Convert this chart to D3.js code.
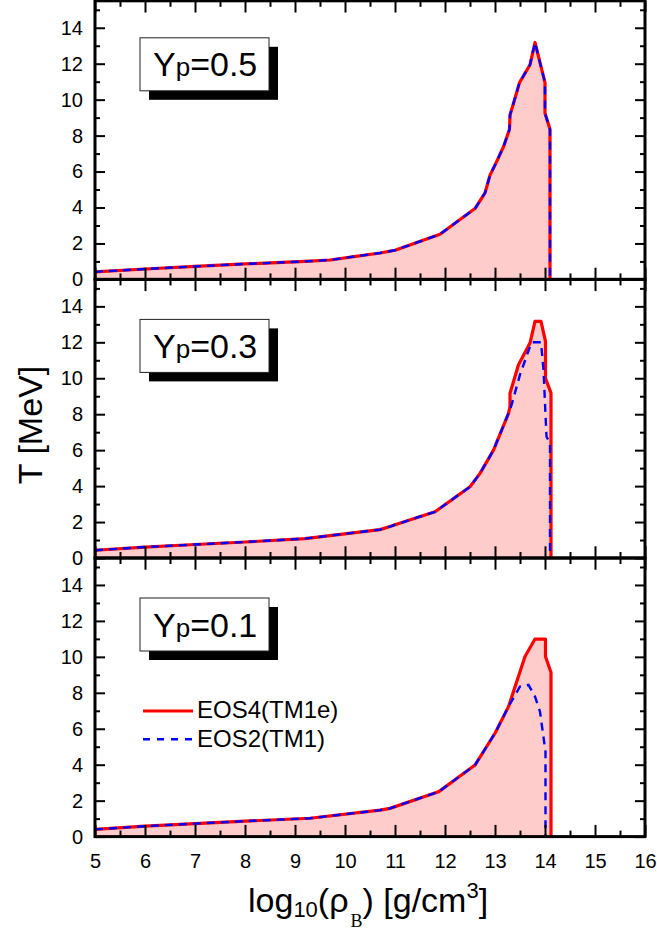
<!DOCTYPE html>
<html>
<head>
<meta charset="utf-8">
<script src="https://cdn.jsdelivr.net/npm/d3@7"></script>
<style>
  body { margin: 0; background: #fff; }
  svg { display: block; }
</style>
</head>
<body>
<svg id="chart"></svg>
<script>
const ypLabels = ['0.5', '0.3', '0.1'];
const xTicks = [5, 6, 7, 8, 9, 10, 11, 12, 13, 14, 15, 16];
const xMinorTicks = [5.5, 6.5, 7.5, 8.5, 9.5, 10.5, 11.5, 12.5, 13.5, 14.5, 15.5];
const yTicks = [0, 2, 4, 6, 8, 10, 12, 14];
const yMinorTicks = [1, 3, 5, 7, 9, 11, 13, 15];
const seriesNames = ['EOS4(TM1e)', 'EOS2(TM1)'];

// Yp = 0.5 (both EOS lie on top of each other)
const rho05Red = [5, 6, 7, 8, 9.2, 9.7, 10.7, 11.0, 11.9, 12.6, 12.8, 12.9, 13.0, 13.17, 13.29, 13.3, 13.4, 13.49, 13.7, 13.8, 14.0, 14.0, 14.1, 14.1];
const temp05Red = [0.42, 0.58, 0.72, 0.86, 1.0, 1.08, 1.47, 1.62, 2.51, 3.94, 4.81, 5.8, 6.36, 7.38, 8.35, 9.15, 10.08, 10.95, 11.94, 13.18, 10.95, 9.24, 8.35, 0];
const rho05Blue = [5, 6, 7, 8, 9.2, 9.7, 10.7, 11.0, 11.9, 12.6, 12.8, 12.9, 13.0, 13.17, 13.29, 13.3, 13.4, 13.49, 13.7, 13.8, 14.0, 14.0, 14.1, 14.1];
const temp05Blue = [0.42, 0.58, 0.72, 0.86, 1.0, 1.08, 1.47, 1.62, 2.51, 3.94, 4.81, 5.8, 6.36, 7.38, 8.35, 9.15, 10.08, 10.95, 11.94, 13.18, 10.95, 9.24, 8.35, 0];

// Yp = 0.3
const rho03Red = [5, 6, 7, 8, 9.2, 10.7, 10.9, 11.0, 11.8, 12.5, 12.7, 12.97, 13.27, 13.3, 13.3, 13.47, 13.7, 13.8, 13.92, 14.01, 14.01, 14.12, 14.12];
const temp03Red = [0.43, 0.61, 0.75, 0.89, 1.08, 1.58, 1.75, 1.85, 2.57, 3.96, 4.71, 6.0, 8.05, 8.42, 9.17, 10.75, 11.96, 13.16, 13.16, 12.05, 10.0, 9.17, 0];
const rho03Blue = [5, 6, 7, 8, 9.2, 10.7, 10.9, 11.0, 11.8, 12.5, 12.7, 12.97, 13.27, 13.33, 13.5, 13.73, 13.92, 13.97, 14.03, 14.1, 14.1];
const temp03Blue = [0.43, 0.61, 0.75, 0.89, 1.08, 1.58, 1.75, 1.85, 2.57, 3.96, 4.71, 6.0, 8.05, 8.5, 10.2, 12.0, 12.0, 10.47, 6.75, 6.38, 0];

// Yp = 0.1
const rho01Red = [5, 6, 7, 8, 9.3, 10.7, 10.9, 11.87, 12.6, 13.0, 13.27, 13.6, 13.8, 14.01, 14.01, 14.12, 14.12];
const temp01Red = [0.4, 0.58, 0.72, 0.86, 1.02, 1.47, 1.57, 2.49, 3.98, 5.75, 7.23, 10.02, 10.99, 10.99, 10.02, 9.13, 0];
const rho01Blue = [5, 6, 7, 8, 9.3, 10.7, 10.9, 11.87, 12.6, 13.0, 13.27, 13.5, 13.67, 13.8, 13.9, 14.01, 14.01];
const temp01Blue = [0.4, 0.58, 0.72, 0.86, 1.02, 1.47, 1.57, 2.49, 3.98, 5.75, 7.23, 8.35, 8.44, 7.79, 6.95, 4.72, 0];

const zip = (a, b) => a.map((v, i) => [v, b[i]]);

const panels = [
  { yp: ypLabels[0], red: zip(rho05Red, temp05Red), blue: zip(rho05Blue, temp05Blue), boxTop: 37 },
  { yp: ypLabels[1], red: zip(rho03Red, temp03Red), blue: zip(rho03Blue, temp03Blue), boxTop: 40 },
  { yp: ypLabels[2], red: zip(rho01Red, temp01Red), blue: zip(rho01Blue, temp01Blue), boxTop: 40 }
];

const W = 657, H = 931;
const left = 95, right = 645;
const top0 = 0.8, panelH = 278.6;
const font = 'Liberation Sans, Arial, Helvetica, sans-serif';

const svg = d3.select('#chart').attr('width', W).attr('height', H);

const x = d3.scaleLinear().domain([5, 16]).range([left, right]);

function styleAxis(g) {
  g.select('.domain').remove();
  g.selectAll('.tick line').attr('stroke', '#000').attr('stroke-width', 2);
  g.attr('font-family', font).attr('font-size', 20);
}

panels.forEach((p, i) => {
  const top = top0 + i * panelH;
  const y = d3.scaleLinear().domain([0, 15.5]).range([top + panelH, top]);
  const g = svg.append('g');

  const area = d3.area().x(d => x(d[0])).y0(y(0)).y1(d => y(d[1]));
  const line = d3.line().x(d => x(d[0])).y(d => y(d[1]));

  g.append('path').datum(p.red).attr('d', area).attr('fill', '#ffcccc');
  g.append('path').datum(p.red).attr('d', line)
    .attr('fill', 'none').attr('stroke', '#ff0000').attr('stroke-width', 3.2)
    .attr('stroke-linejoin', 'round');
  g.append('path').datum(p.blue).attr('d', line)
    .attr('fill', 'none').attr('stroke', '#0000ff').attr('stroke-width', 2.4)
    .attr('stroke-dasharray', '8,6');

  // bottom axis (labels only on the last panel)
  const last = i === panels.length - 1;
  g.append('g').attr('transform', `translate(0,${y(0)})`)
    .call(d3.axisBottom(x).tickValues(xTicks).tickSize(-11.7).tickPadding(17)
      .tickFormat(last ? d3.format('d') : () => ''))
    .call(styleAxis);
  g.append('g').attr('transform', `translate(0,${y(0)})`)
    .call(d3.axisBottom(x).tickValues(xMinorTicks).tickSize(-6).tickFormat(() => ''))
    .call(styleAxis);
  // top axis
  g.append('g').attr('transform', `translate(0,${top})`)
    .call(d3.axisTop(x).tickValues(xTicks).tickSize(-11.7).tickFormat(() => ''))
    .call(styleAxis);
  g.append('g').attr('transform', `translate(0,${top})`)
    .call(d3.axisTop(x).tickValues(xMinorTicks).tickSize(-6).tickFormat(() => ''))
    .call(styleAxis);
  // left axis
  g.append('g').attr('transform', `translate(${left},0)`)
    .call(d3.axisLeft(y).tickValues(yTicks).tickSize(-10).tickPadding(12))
    .call(styleAxis);
  g.append('g').attr('transform', `translate(${left},0)`)
    .call(d3.axisLeft(y).tickValues(yMinorTicks).tickSize(-5).tickFormat(() => ''))
    .call(styleAxis);
  // right axis
  g.append('g').attr('transform', `translate(${right},0)`)
    .call(d3.axisRight(y).tickValues(yTicks).tickSize(-10).tickFormat(() => ''))
    .call(styleAxis);
  g.append('g').attr('transform', `translate(${right},0)`)
    .call(d3.axisRight(y).tickValues(yMinorTicks).tickSize(-5).tickFormat(() => ''))
    .call(styleAxis);

  g.append('rect')
    .attr('x', left).attr('y', top).attr('width', right - left).attr('height', panelH)
    .attr('fill', 'none').attr('stroke', '#000').attr('stroke-width', 3);

  // Yp label box with shadow
  const bx = 140, by = top + p.boxTop, bw = 129, bh = 53;
  g.append('rect').attr('x', bx + 9).attr('y', by + 9).attr('width', bw).attr('height', bh).attr('fill', '#000');
  g.append('rect').attr('x', bx).attr('y', by).attr('width', bw).attr('height', bh)
    .attr('fill', '#fff').attr('stroke', '#222').attr('stroke-width', 1);
  const t = g.append('text').attr('x', bx + 13).attr('y', by + 38.5)
    .attr('font-family', font).attr('font-size', 34);
  t.append('tspan').text('Y');
  t.append('tspan').attr('font-size', 26).text('p');
  t.append('tspan').text('=' + p.yp);

  if (last) {
    const lg = g.append('g').attr('font-family', font).attr('font-size', 24);
    lg.append('line').attr('x1', 143).attr('x2', 193).attr('y1', top + 153).attr('y2', top + 153)
      .attr('stroke', '#ff0000').attr('stroke-width', 3.2);
    lg.append('text').attr('x', 197).attr('y', top + 160).text(seriesNames[0]);
    lg.append('line').attr('x1', 143).attr('x2', 193).attr('y1', top + 181.3).attr('y2', top + 181.3)
      .attr('stroke', '#0000ff').attr('stroke-width', 2.4).attr('stroke-dasharray', '7,7');
    lg.append('text').attr('x', 197).attr('y', top + 189).text(seriesNames[1]);
  }
});

// axis titles
svg.append('text')
  .attr('transform', 'translate(42,425) rotate(-90)')
  .attr('text-anchor', 'middle')
  .attr('font-family', font).attr('font-size', 34)
  .text('T [MeV]');

const xt = svg.append('text').attr('x', 248).attr('y', 912)
  .attr('font-family', font).attr('font-size', 34);
xt.append('tspan').text('log');
xt.append('tspan').attr('font-size', 22).attr('dy', 5).text('10');
xt.append('tspan').attr('dy', -5).text('(ρ');
xt.append('tspan').attr('font-size', 18).attr('font-family', 'Liberation Serif, Times New Roman, serif')
  .attr('dy', 15).attr('dx', 2).text('B');
xt.append('tspan').attr('dy', -15).text(') [g/cm');
xt.append('tspan').attr('font-size', 22).attr('dy', -14).text('3');
xt.append('tspan').attr('dy', 14).text(']');
</script>
</body>
</html>
